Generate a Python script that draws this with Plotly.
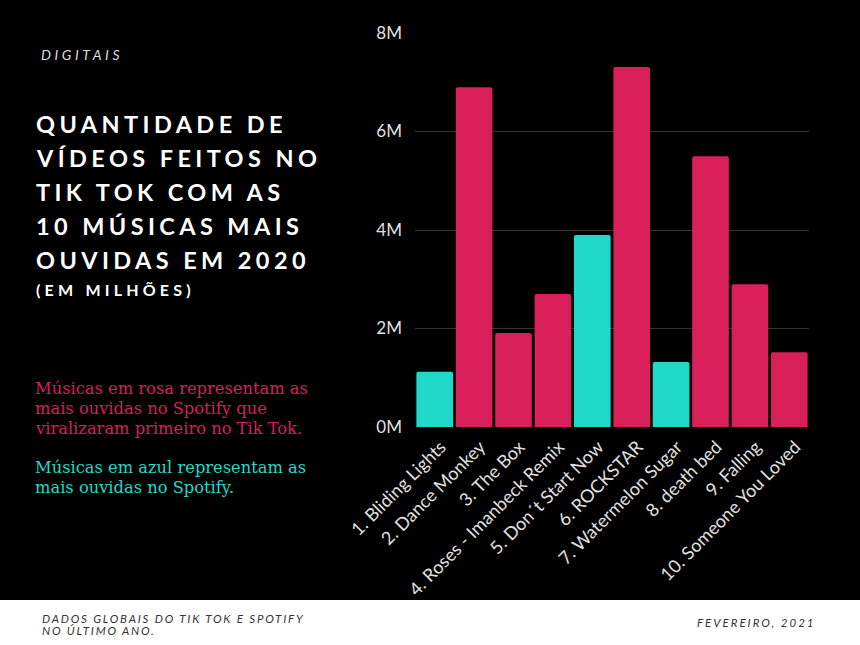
import plotly.graph_objects as go

# ---- data ----
songs = ["1. Bliding Lights", "2. Dance Monkey", "3. The Box", "4. Roses - Imanbeck Remix",
         "5. Don´t Start Now", "6. ROCKSTAR", "7. Watermelon Sugar", "8. death bed",
         "9. Falling", "10. Someone You Loved"]
videos_millions = [1.12, 6.9, 1.91, 2.7, 3.9, 7.31, 1.32, 5.5, 2.9, 1.52]
group = ["spotify", "tiktok", "tiktok", "tiktok", "spotify", "tiktok", "spotify", "tiktok", "tiktok", "tiktok"]
y_tick_vals = [0, 2, 4, 6, 8]
y_tick_text = ["0M", "2M", "4M", "6M", "8M"]

PINK = "#D81F5A"
TEAL = "#21D9C9"
color_map = {"tiktok": PINK, "spotify": TEAL}

W, H = 860, 645
L, R, T, B = 415, 809, 33, 427


def px_x(x):
    return (x - L) / (R - L)


def px_y(y):
    return (B - y) / (B - T)


fig = go.Figure(go.Bar(
    x=songs,
    y=videos_millions,
    marker=dict(color=[color_map[g] for g in group], line=dict(width=0), cornerradius=2),
    hoverinfo="x+y",
))

annotations = []


def add_text(text, x, y, size, color, family="Lato", xanchor="left", yanchor="middle",
             spacing=0, italic=False, bold=False, align="left"):
    style = f"letter-spacing:{spacing}px" if spacing else ""
    t = f'<span style="{style}">{text}</span>' if style else text
    annotations.append(dict(
        text=t, x=px_x(x), y=px_y(y), xref="paper", yref="paper",
        xanchor=xanchor, yanchor=yanchor, showarrow=False, align=align,
        font=dict(family=family, size=size, color=color,
                  style="italic" if italic else "normal",
                  weight="bold" if bold else "normal"),
    ))


add_text("DIGITAIS", 39, 55, 14, "#dddddd", spacing=3.6, italic=True)

title_lines = ["QUANTIDADE DE", "VÍDEOS FEITOS NO", "TIK TOK COM AS",
               "10 MÚSICAS MAIS", "OUVIDAS EM 2020"]
for i, line in enumerate(title_lines):
    add_text(line, 34, 124 + 34 * i, 23.5, "#ffffff", spacing=4.4, bold=True)
add_text("(EM MILHÕES)", 34, 289, 16, "#ffffff", spacing=4.2, bold=True)

pink_lines = ["Músicas em rosa representam as", "mais ouvidas no Spotify que",
              "viralizaram primeiro no Tik Tok."]
teal_lines = ["Músicas em azul representam as", "mais ouvidas no Spotify."]
for i, line in enumerate(pink_lines):
    add_text(line, 33, 388 + 20 * i, 16.3, PINK, family="DejaVu Serif")
for i, line in enumerate(teal_lines):
    add_text(line, 33, 467 + 20 * i, 16.3, TEAL, family="DejaVu Serif")

footer_lines = ["DADOS GLOBAIS DO TIK TOK E SPOTIFY", "NO ÚLTIMO ANO."]
for i, line in enumerate(footer_lines):
    add_text(line, 40, 618 + 12 * i, 11.5, "#333333", spacing=1.8, italic=True)
add_text("FEVEREIRO, 2021", 818, 622, 11.5, "#333333", xanchor="right", spacing=2, italic=True)

shapes = [dict(type="rect", xref="paper", yref="paper",
               x0=px_x(0), x1=px_x(W), y0=px_y(600), y1=px_y(H + 5),
               fillcolor="#ffffff", line=dict(width=0), layer="below")]

fig.update_layout(
    width=W, height=H,
    margin=dict(l=L, r=W - R, t=T, b=H - B),
    paper_bgcolor="#000000",
    plot_bgcolor="#000000",
    bargap=0.07,
    showlegend=False,
    annotations=annotations,
    shapes=shapes,
    font=dict(family="Lato", color="#e0e0e0"),
    xaxis=dict(tickangle=-45, tickfont=dict(family="Lato", size=18, color="#e0e0e0"),
               showgrid=False, showline=False, ticks="", fixedrange=True,
               ticklabelshift=6, ticklabelstandoff=5),
    yaxis=dict(range=[0, 8], tickvals=y_tick_vals, ticktext=y_tick_text,
               tickfont=dict(family="Lato", size=17, color="#e0e0e0"),
               showgrid=True, gridcolor="#333333", gridwidth=1, zeroline=False,
               showline=False, ticks="", ticklabelstandoff=12, fixedrange=True),
)

fig.write_html("out.html", config={"displayModeBar": False},
               post_script="document.body.style.margin='0';document.body.style.background='#000';")
